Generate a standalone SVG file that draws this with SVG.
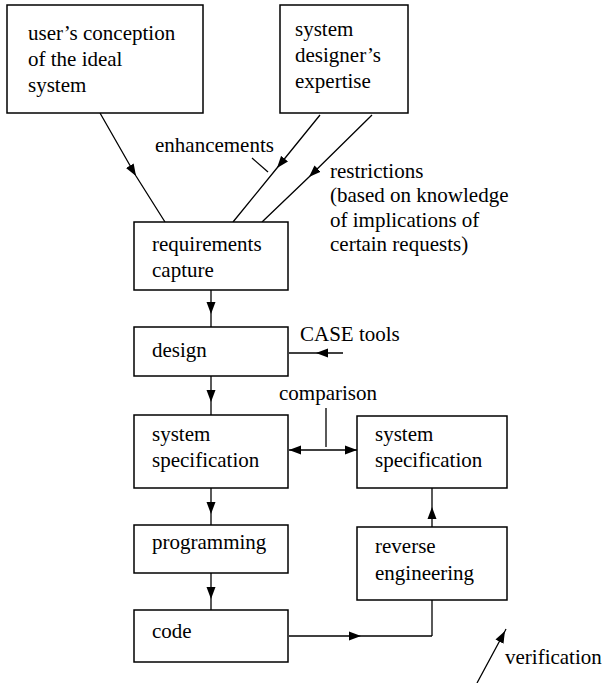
<svg xmlns="http://www.w3.org/2000/svg" width="605" height="683" viewBox="0 0 605 683">
<style>
.box{fill:#fff;stroke:#000;stroke-width:1.5}
.t{font-size:21px;fill:#000}
.c{fill:none;stroke:#000;stroke-width:1.3}
</style>
<defs>
<marker id="ah" markerUnits="userSpaceOnUse" markerWidth="14" markerHeight="10" refX="12" refY="5" orient="auto">
<path d="M0,0.5 L12,5 L0,9.5 Z" fill="#000"/>
</marker>
<marker id="ahs" markerUnits="userSpaceOnUse" markerWidth="14" markerHeight="10" refX="0" refY="5" orient="auto">
<path d="M12,0.5 L0,5 L12,9.5 Z" fill="#000"/>
</marker>
</defs>
<rect width="605" height="683" fill="#fff"/>
<g id="connectors">
<path class="c" marker-mid="url(#ah)" d="M100,113 L136,176 L165,222"/>
<path class="c" marker-mid="url(#ah)" d="M320,115 L277,168 L233,222"/>
<path class="c" marker-mid="url(#ah)" d="M372,115 L309,177 L262,222"/>
<line class="c" x1="252" y1="158" x2="268" y2="172"/>
<path class="c" marker-mid="url(#ah)" d="M211,290 L211,314 L211,327"/>
<path class="c" marker-mid="url(#ah)" d="M343,353 L316,353 L289,353"/>
<path class="c" marker-mid="url(#ah)" d="M211,376 L211,402 L211,415"/>
<line class="c" marker-start="url(#ahs)" marker-end="url(#ah)" x1="289" y1="450" x2="357" y2="450"/>
<line class="c" x1="326" y1="408" x2="326" y2="447"/>
<path class="c" marker-mid="url(#ah)" d="M211,488 L211,514 L211,525"/>
<path class="c" marker-mid="url(#ah)" d="M432,527 L432,507 L432,488"/>
<path class="c" marker-mid="url(#ah)" d="M211,573 L211,599 L211,610"/>
<path class="c" marker-mid="url(#ah)" d="M289,636 L361,636 L432,636"/>
<path class="c" d="M432,636 L432,600"/>
<path class="c" marker-mid="url(#ah)" d="M477,683 L505,631 L506,629"/>
</g>
<g font-family="'Liberation Serif', 'Times New Roman', Tinos, 'Nimbus Roman', 'DejaVu Serif', serif">
<g id="users-conception">
<rect class="box" x="7" y="5" width="196" height="108"/>
<text class="t" x="28" y="40">user’s conception</text>
<text class="t" x="28" y="66">of the ideal</text>
<text class="t" x="28" y="92">system</text>
</g>
<g id="designers-expertise">
<rect class="box" x="280" y="5" width="128" height="108"/>
<text class="t" x="295" y="36">system</text>
<text class="t" x="295" y="62">designer’s</text>
<text class="t" x="295" y="88">expertise</text>
</g>
<g id="enhancements-label">
<text class="t" x="155" y="152">enhancements</text>
</g>
<g id="restrictions-label">
<text class="t" x="330" y="178">restrictions</text>
<text class="t" x="330" y="202">(based on knowledge</text>
<text class="t" x="330" y="227">of implications of</text>
<text class="t" x="330" y="251">certain requests)</text>
</g>
<g id="requirements-capture">
<rect class="box" x="134" y="222" width="154" height="68"/>
<text class="t" x="152" y="251">requirements</text>
<text class="t" x="152" y="277">capture</text>
</g>
<g id="design">
<rect class="box" x="134" y="327" width="154" height="49"/>
<text class="t" x="152" y="357">design</text>
</g>
<g id="case-tools">
<text class="t" x="300" y="341">CASE tools</text>
</g>
<g id="comparison-label">
<text class="t" x="279" y="400">comparison</text>
</g>
<g id="system-specification-1">
<rect class="box" x="134" y="415" width="154" height="73"/>
<text class="t" x="152" y="441">system</text>
<text class="t" x="152" y="467">specification</text>
</g>
<g id="system-specification-2">
<rect class="box" x="357" y="416" width="150" height="72"/>
<text class="t" x="375" y="441">system</text>
<text class="t" x="375" y="467">specification</text>
</g>
<g id="programming">
<rect class="box" x="134" y="525" width="154" height="48"/>
<text class="t" x="152" y="549">programming</text>
</g>
<g id="reverse-engineering">
<rect class="box" x="357" y="527" width="150" height="73"/>
<text class="t" x="375" y="553">reverse</text>
<text class="t" x="375" y="580">engineering</text>
</g>
<g id="code">
<rect class="box" x="134" y="610" width="154" height="52"/>
<text class="t" x="152" y="638">code</text>
</g>
<g id="verification-label">
<text class="t" x="505" y="664">verification</text>
</g>
</g>
</svg>
